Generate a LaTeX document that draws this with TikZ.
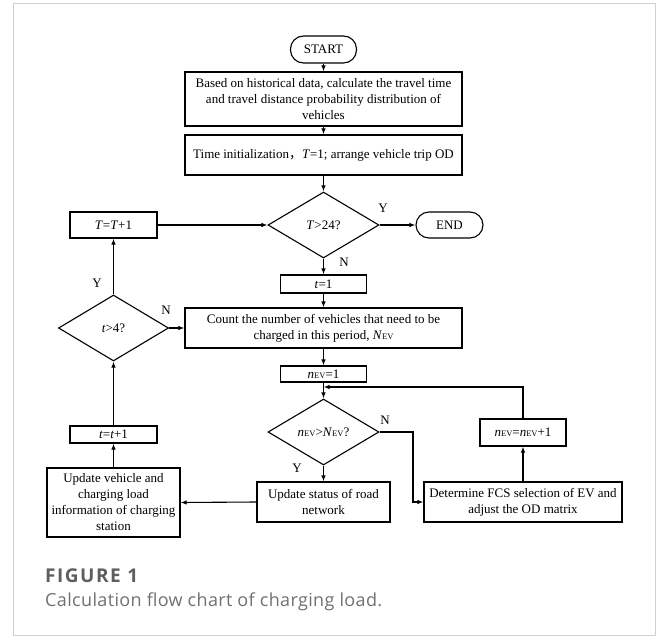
\documentclass[tikz,border=0pt]{standalone}
\usepackage{fontspec}
\setmainfont{Liberation Serif}
\newfontfamily\capfont[LetterSpace=2]{Open Sans}
\newfontfamily\figfont[LetterSpace=8]{Open Sans}
\newfontfamily\cjkfont{Noto Sans CJK SC}
\usetikzlibrary{shapes.geometric,arrows.meta}
\newcommand\evsub{{\fontsize{8.5}{9}\selectfont EV}}
\definecolor{framegray}{HTML}{CFCFCF}
\definecolor{figgray}{HTML}{5E5E5E}
\definecolor{capgray}{HTML}{707070}
\begin{document}
\begin{tikzpicture}[x=1pt,y=-1pt,
  every node/.style={font=\fontsize{13}{16}\selectfont},
  proc/.style={draw,line width=1.1pt,rectangle,inner sep=0pt,align=center},
  term/.style={draw,line width=1.1pt,rectangle,rounded corners=13pt,inner sep=0pt},
  dec/.style={draw,line width=1.1pt,diamond,inner sep=0pt},
  flow/.style={line width=1.1pt,-{Latex[length=6pt,width=4.5pt]}},
  lbl/.style={inner sep=0pt}]
\useasboundingbox (0,0) rectangle (656,637);
\draw[framegray,line width=1pt] (13,3) rectangle (655,635);

% main column
\node[term,minimum width=66pt,minimum height=27pt] (start) at (323.5,49.5) {START};
\node[proc,minimum width=277pt,minimum height=54pt] (box1) at (323.5,99)
  {Based on historical data, calculate the travel time\\and travel distance probability distribution of\\vehicles};
\node[proc,minimum width=277pt,minimum height=40pt] (box2) at (323.5,155)
  {Time initialization{\cjkfont ，}\textit{T}=1; arrange vehicle trip OD};
\node[dec,minimum width=111pt,minimum height=66pt] (d1) at (323.5,225) {\textit{T}>24?};
\node[proc,minimum width=87pt,minimum height=26pt] (TT) at (113.5,225) {\textit{T}=\textit{T}+1};
\node[term,minimum width=67pt,minimum height=26pt] (end) at (449.5,225) {END};
\node[proc,minimum width=86pt,minimum height=18pt] (t1) at (323.5,284) {\textit{t}=1};
\node[proc,minimum width=277pt,minimum height=40pt] (count) at (323.5,328)
  {Count the number of vehicles that need to be\\charged in this period, \textit{N}\evsub};
\node[dec,minimum width=110pt,minimum height=66pt] (d2) at (113.5,328) {\textit{t}>4?};
\node[proc,minimum width=86pt,minimum height=16pt] (nev1) at (323.5,374) {\textit{n}\evsub=1};
\node[dec,minimum width=111pt,minimum height=66pt] (d3) at (323.5,432) {\textit{n}\evsub>\textit{N}\evsub?};
\node[proc,minimum width=87pt,minimum height=17pt] (tt) at (113.5,434.5) {\textit{t}=\textit{t}+1};
\node[proc,minimum width=133pt,minimum height=69pt] (upv) at (113.5,502.5)
  {Update vehicle and\\charging load\\information of charging\\station};
\node[proc,minimum width=133pt,minimum height=40pt] (ups) at (323.5,502)
  {Update status of road\\network};
\node[proc,minimum width=198pt,minimum height=40pt] (det) at (523,502)
  {Determine FCS selection of EV and\\adjust the OD matrix};
\node[proc,minimum width=86pt,minimum height=27pt] (nevp) at (523,432.5)
  {\textit{n}\evsub=\textit{n}\evsub+1};

% labels
\node[lbl] (ly1) at (383,208) {Y};
\node[lbl] (ln1) at (344,262) {N};
\node[lbl] (ln2) at (166,310) {N};
\node[lbl] (ly2) at (97,283) {Y};
\node[lbl] (ly3) at (297,468) {Y};
\node[lbl] (ln3) at (385,420) {N};

% connectors
\draw[flow] (start) -- (box1);
\draw[flow] (box1) -- (box2);
\draw[flow] (box2) -- (d1);
\draw[flow] (d1.east) -- (end.west);
\draw[flow] (TT.east) -- (d1.west);
\draw[flow] (d1.south) -- (t1.north);
\draw[flow] (t1) -- (count);
\draw[flow] (count) -- (nev1);
\draw[flow] (nev1) -- (d3);
\draw[flow] (d3.south) -- (ups.north);
\coordinate (nbend) at (413,432);
\draw[flow] (d3.east) -- (nbend) |- (det.west);
\draw[flow] (det.north) -- (nevp.south);
\coordinate (lp) at (523,387);
\draw[flow] (nevp.north) -- (lp) -- (lp -| nev1.south);
\draw[flow] (ups.west) -- (upv.east);
\draw[flow] (upv.north) -- (tt.south);
\draw[flow] (tt.north) -- (d2.south);
\draw[flow] (d2.east) -- (count.west);
\draw[flow] (d2.north) -- (TT.south);

% caption
\node[anchor=base west,inner sep=0pt,text=figgray,font=\figfont\bfseries\fontsize{19}{22}\selectfont] (fig) at (45,582) {FIGURE 1};
\node[anchor=base west,inner sep=0pt,text=capgray,font=\capfont\fontsize{18}{21}\selectfont] (cap) at (45,606) {Calculation flow chart of charging load.};
\end{tikzpicture}
\end{document}
